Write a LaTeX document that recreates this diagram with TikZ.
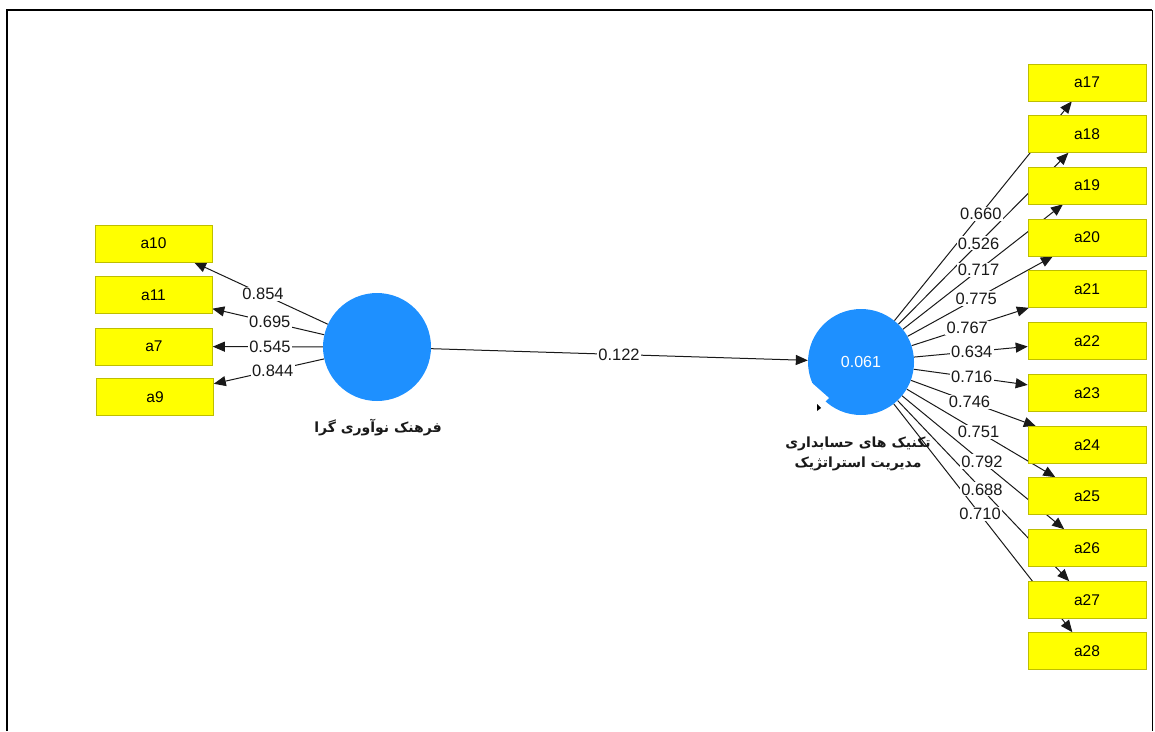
\documentclass[tikz,border=0pt]{standalone}
\usepackage{fontspec}
\setmainfont{Liberation Sans}
\newfontfamily\fafont[Script=Arabic]{DejaVu Sans}
\TeXXeTstate=1
\usetikzlibrary{arrows.meta,calc,backgrounds}
\definecolor{lvblue}{RGB}{30,144,255}
\definecolor{boxyellow}{RGB}{255,255,0}
\definecolor{boxedge}{RGB}{190,190,0}
\begin{document}
\begin{tikzpicture}[x=1pt,y=-1pt,
  ind/.style={rectangle, fill=boxyellow, draw=boxedge, line width=0.6pt, minimum width=117pt, minimum height=37pt, inner sep=0pt, font=\fontsize{15.5}{18}\selectfont},
  lv/.style={circle, fill=lvblue, minimum size=108pt, inner sep=0pt},
  lnk/.style={draw=black!90, line width=1pt, -{Triangle[length=12pt,width=10pt]}},
  lbl/.style={fill=white, inner sep=1.2pt, font=\fontsize{16.5}{18}\selectfont, text=black!90},
  fatext/.style={font=\fafont\bfseries\fontsize{14}{20}\selectfont, align=center, text=black!90},
]
\useasboundingbox (0,0) rectangle (1155,731);
% frame
\draw[line width=2pt] (7,731) -- (7,10) -- (1152,10);
\draw[line width=1pt] (1152,10) -- (1152,731);

% latent variables
\node[lv] (L) at (377,347) {};
\node[lv, minimum size=106pt, text=white, font=\fontsize{16}{18}\selectfont] (R) at (861,362) {0.061};
\fill[white] (812,383) -- (829,398) -- (815,411) -- (799,397) -- cycle;
\fill[black] (817,404) -- (821,408) -- (817,411) -- cycle;

% left indicators
\node[ind] (a10) at (153.5,243.5) {a10};
\node[ind] (a11) at (153.5,295) {a11};
\node[ind] (a7)  at (154,346.5) {a7};
\node[ind] (a9)  at (155,397) {a9};

% right indicators
\node[ind, minimum width=118pt] (a17) at (1087,82.5) {a17};
\node[ind, minimum width=118pt] (a18) at (1087,134) {a18};
\node[ind, minimum width=118pt] (a19) at (1087,185.5) {a19};
\node[ind, minimum width=118pt] (a20) at (1087,237.5) {a20};
\node[ind, minimum width=118pt] (a21) at (1087,289) {a21};
\node[ind, minimum width=118pt] (a22) at (1087,341) {a22};
\node[ind, minimum width=118pt] (a23) at (1087,393) {a23};
\node[ind, minimum width=118pt] (a24) at (1087,445) {a24};
\node[ind, minimum width=118pt] (a25) at (1087,496) {a25};
\node[ind, minimum width=118pt] (a26) at (1087,548) {a26};
\node[ind, minimum width=118pt] (a27) at (1087,600) {a27};
\node[ind, minimum width=118pt] (a28) at (1087,651) {a28};

\begin{scope}[on background layer]
\node[fatext] (tL) at (378,428) {\beginR فرهنک نوآوری گرا\endR};
\node[fatext] (tR) at (858,454) {\beginR تکنیک های حسابداری\endR\\\beginR مدیریت استراتژیک\endR};

\draw[lnk] (L) -- (R);
\foreach \t in {a10,a11,a7,a9} \draw[lnk] (L) -- (\t);
\foreach \t in {a17,a18,a19,a20,a21,a22,a23,a24,a25,a26,a27,a28} \draw[lnk] (R) -- (\t);

\node[lbl] at ($(L)!0.5!(R)$) {0.122};
\node[lbl] at ($(L)!0.51!(a10)$) {0.854};
\node[lbl] at ($(L)!0.48!(a11)$) {0.695};
\node[lbl] at ($(L)!0.48!(a7)$) {0.545};
\node[lbl] at ($(L)!0.47!(a9)$) {0.844};

\node[lbl] at ($(R)!0.53!(a17)$) {0.660};
\node[lbl] at ($(R)!0.52!(a18)$) {0.526};
\node[lbl] at ($(R)!0.52!(a19)$) {0.717};
\node[lbl] at ($(R)!0.51!(a20)$) {0.775};
\node[lbl] at ($(R)!0.47!(a21)$) {0.767};
\node[lbl] at ($(R)!0.49!(a22)$) {0.634};
\node[lbl] at ($(R)!0.49!(a23)$) {0.716};
\node[lbl] at ($(R)!0.48!(a24)$) {0.746};
\node[lbl] at ($(R)!0.52!(a25)$) {0.751};
\node[lbl] at ($(R)!0.535!(a26)$) {0.792};
\node[lbl] at ($(R)!0.535!(a27)$) {0.688};
\node[lbl] at ($(R)!0.527!(a28)$) {0.710};
\end{scope}
\end{tikzpicture}
\end{document}
